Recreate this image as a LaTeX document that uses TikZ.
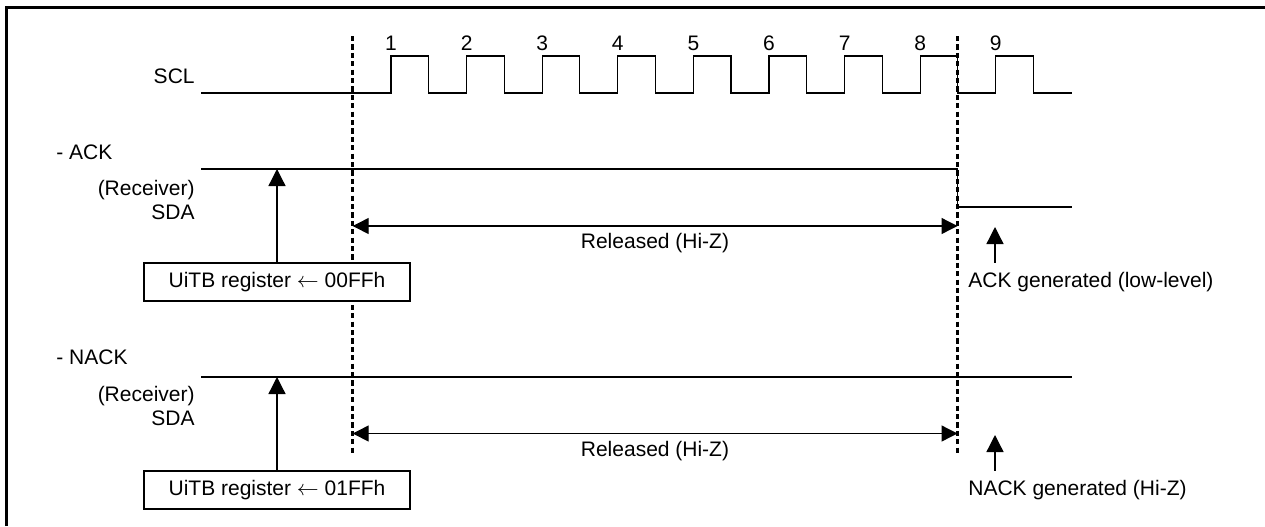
\documentclass[tikz,border=0pt]{standalone}
\usepackage{fontspec}
\setmainfont{Liberation Sans}
\usetikzlibrary{arrows.meta,positioning,calc}

\begin{document}
\begin{tikzpicture}[
      x=0.5pt, y=-0.5pt,
      every node/.style={
        font=\fontsize{10.5}{12}\selectfont,
        inner sep=1pt
      },
      sig/.style={
        line width=0.65pt
      },
      marker/.style={
        line width=1.4pt,
        dash pattern=on 2.6pt off 1.6pt
      },
      arr/.style={
        line width=0.65pt,
        -{Triangle[length=8.5pt,width=8.5pt]}
      },
      dbl/.style={
        line width=0.65pt,
        {Triangle[length=8pt,width=8pt]}-{Triangle[length=8pt,width=8pt]}
      },
      regbox/.style={
        draw,
        fill=white,
        line width=0.65pt,
        minimum width=133pt,
        minimum height=19pt,
        inner sep=0pt
      },
      lbl/.style={
        anchor=east,
        align=right
      },
      note/.style={
        anchor=west
      }
    ]
    \useasboundingbox (0,0) rectangle (1265,526);
    \draw[line width=1.5pt] (6.5,526) -- (6.5,7.5) -- (1265,7.5);

    % SCL
    \node[lbl] (scl) at (197,76) {SCL};
    \draw[sig] (201,93) foreach \k in {0,...,8}{
        -- ({391+75.6*\k},93) -- ++(0,-37) -- ++(37.6,0) -- ++(0,37)
      } -- (1071.5,93);
    \foreach \n in {1,...,9}
      \node (p\n) at ({391+75.6*(\n-1)},43) {\n};

    % markers
    \coordinate (m1top) at (352.7,36);
    \coordinate (m1bot) at (352.7,453);
    \coordinate (m2top) at (957.5,36);
    \coordinate (m2bot) at (957.5,453);
    \draw[marker] (m1top) -- (m1bot);
    \draw[marker] (m2top) -- (m2bot);

    % ACK
    \node[note] (ack) at (54,152) {- ACK};
    \node[lbl] (sda1) at (197,200) {(Receiver)\\SDA};
    \coordinate (ackhi) at (277,169);
    \draw[sig] (201,169) -- (957.5,169) -- (957.5,207) -- (1071.5,207);
    \node[regbox] (reg1) at (277,282) {UiTB register $\leftarrow$ 00FFh};
    \draw[arr] (reg1.north) -- (ackhi);
    \coordinate (rel1) at (655,226);
    \draw[dbl] (m1top |- rel1) -- (m2top |- rel1);
    \node (rel1lbl) at (655,243) {Released (Hi-Z)};
    \node[note] (ackgen) at (966,282) {ACK generated (low-level)};
    \coordinate (acktip) at (995,227);
    \draw[arr] ([yshift=3.5pt]ackgen.north -| acktip) -- (acktip);

    % NACK
    \node[note] (nack) at (54,357) {- NACK};
    \node[lbl] (sda2) at (197,406) {(Receiver)\\SDA};
    \coordinate (nackhi) at (277,377);
    \draw[sig] (201,377) -- (1071.5,377);
    \node[regbox] (reg2) at (277,490) {UiTB register $\leftarrow$ 01FFh};
    \draw[arr] (reg2.north) -- (nackhi);
    \coordinate (rel2) at (655,433.5);
    \draw[dbl] (m1top |- rel2) -- (m2top |- rel2);
    \node (rel2lbl) at (655,451) {Released (Hi-Z)};
    \node[note] (nackgen) at (966,490) {NACK generated (Hi-Z)};
    \coordinate (nacktip) at (995,435);
    \draw[arr] ([yshift=3.5pt]nackgen.north -| nacktip) -- (nacktip);
  \end{tikzpicture}
\end{document}
